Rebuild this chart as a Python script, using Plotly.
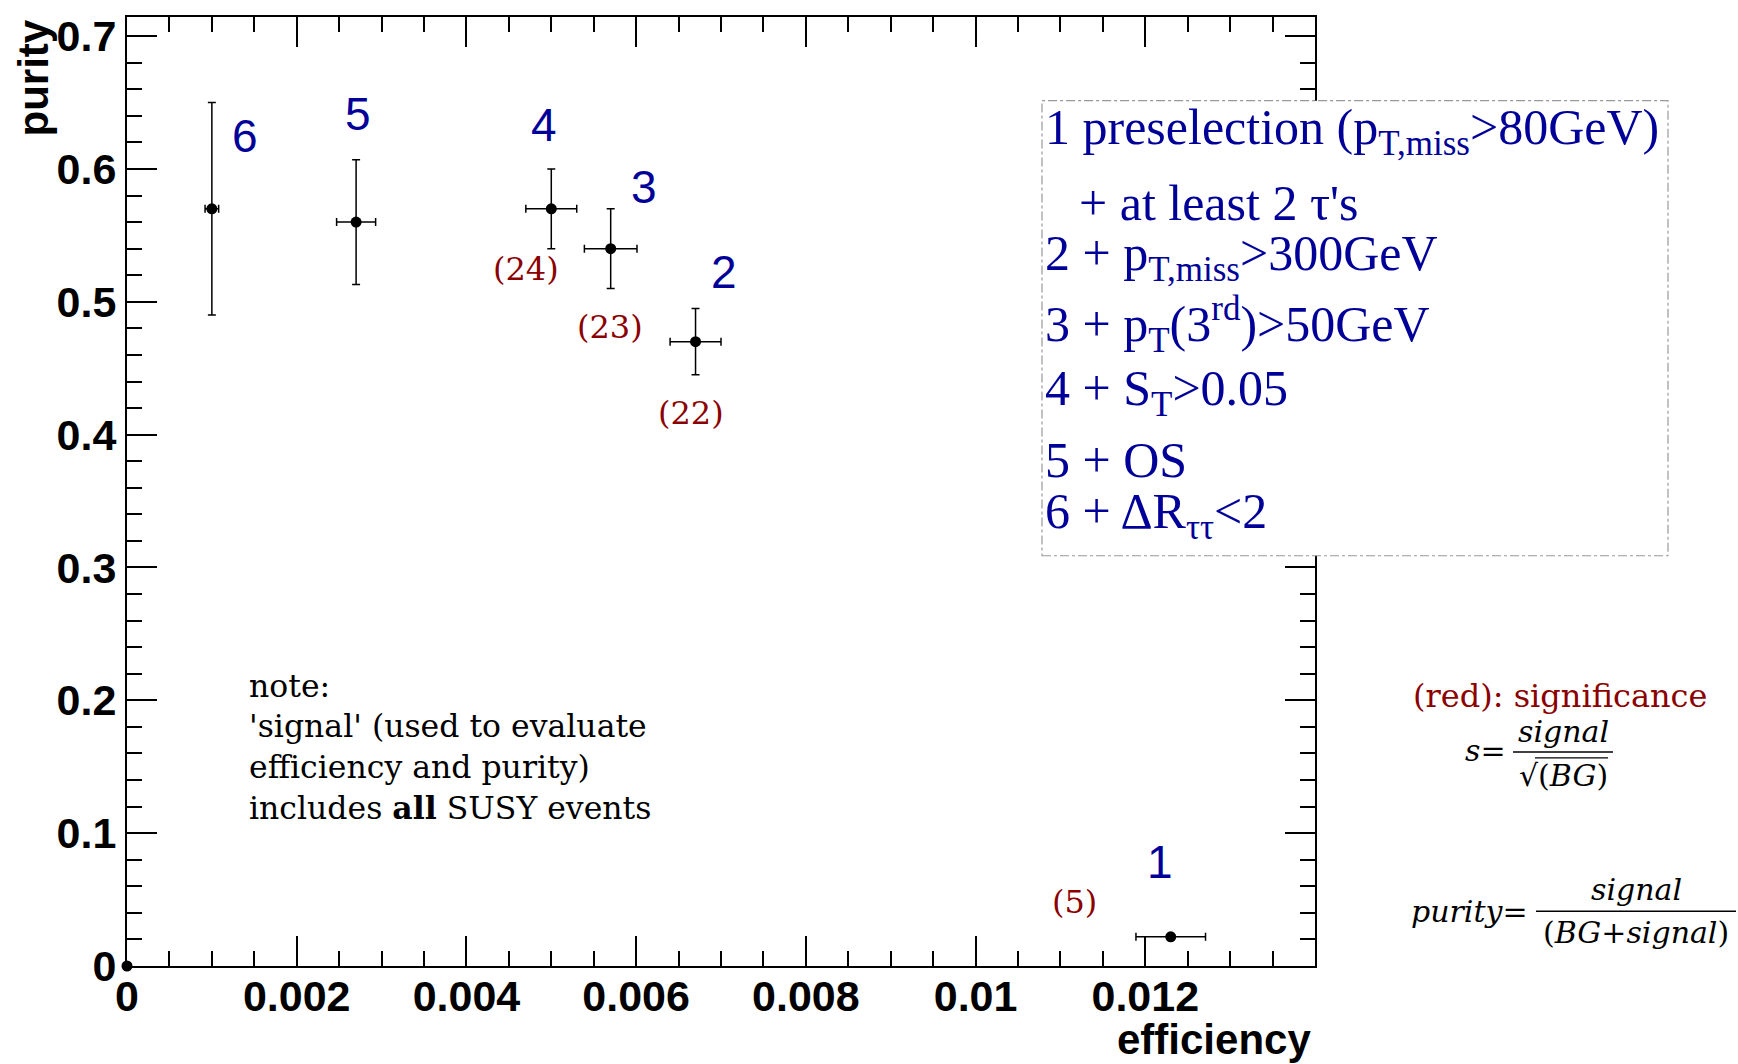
import plotly.graph_objects as go

# Cut-flow steps: signal efficiency vs purity, with uncertainties
step_labels = ["", "1", "2", "3", "4", "5", "6"]
efficiency = [0.0, 0.0123, 0.0067, 0.0057, 0.0050, 0.0027, 0.0010]
efficiency_err = [0.0, 0.00041, 0.00030, 0.00031, 0.00030, 0.00023, 0.00008]
purity = [0.0, 0.022, 0.47, 0.54, 0.57, 0.56, 0.57]
purity_err = [0.0, 0.001, 0.025, 0.030, 0.030, 0.047, 0.080]
significance_labels = ["", "(5)", "(22)", "(23)", "(24)", "", ""]

x_ticks = [0, 0.002, 0.004, 0.006, 0.008, 0.01, 0.012]
x_tick_text = ["0", "0.002", "0.004", "0.006", "0.008", "0.01", "0.012"]
y_ticks = [0, 0.1, 0.2, 0.3, 0.4, 0.5, 0.6, 0.7]
y_tick_text = ["0", "0.1", "0.2", "0.3", "0.4", "0.5", "0.6", "0.7"]

cut_descriptions = [
    "1 preselection (p<sub>T,miss</sub>&gt;80GeV)",
    "+ at least 2 \u03c4's",
    "2 + p<sub>T,miss</sub>&gt;300GeV",
    "3 + p<sub>T</sub>(3<sup>rd</sup>)&gt;50GeV",
    "4 + S<sub>T</sub>&gt;0.05",
    "5 + OS",
    "6 + \u0394R<sub>\u03c4\u03c4</sub>&lt;2",
]
note_lines = [
    "note:",
    "'signal' (used to evaluate",
    "efficiency and purity)",
    "includes <b>all</b> SUSY events",
]

# ---- canvas geometry (pixels) ----
W, H = 1738, 1064
ML, MR, MT, MB = 127, 423, 13, 98
PW = W - ML - MR
PH = H - MT - MB


def px(x):
    return (x - ML) / PW


def py(y):
    return (H - MB - y) / PH


BLUE = "#000099"
RED = "#8b0000"
SANS = "Liberation Sans"
SERIF = "DejaVu Serif"

# label offsets in pixels relative to each point (cut number, significance)
step_shift = {"1": (-11, 75), "2": (28, 70), "3": (33, 62), "4": (-7, 84),
              "5": (2, 108), "6": (33, 73)}
sig_shift = {"(5)": (-96, 35), "(22)": (-5, -71), "(23)": (-1, -78),
             "(24)": (-25, -60)}

fig = go.Figure()
fig.add_trace(go.Scatter(
    x=efficiency, y=purity, mode="markers",
    marker=dict(color="black", size=11),
    error_x=dict(type="data", array=efficiency_err, color="black",
                 thickness=1.5, width=4),
    error_y=dict(type="data", array=purity_err, color="black",
                 thickness=1.5, width=4),
    cliponaxis=False, showlegend=False, hoverinfo="x+y",
))

annotations = []
for ex, pu, lab, sig in zip(efficiency, purity, step_labels, significance_labels):
    if lab:
        dx, dy = step_shift[lab]
        annotations.append(dict(
            x=ex, y=pu, xref="x", yref="y", text=lab, showarrow=False,
            xshift=dx, yshift=dy, xanchor="center", yanchor="middle",
            font=dict(family=SANS, size=46, color=BLUE)))
    if sig:
        dx, dy = sig_shift[sig]
        annotations.append(dict(
            x=ex, y=pu, xref="x", yref="y", text=sig, showarrow=False,
            xshift=dx, yshift=dy, xanchor="center", yanchor="middle",
            font=dict(family=SERIF, size=32, color=RED)))

# cut description box
box_rows_y = [127, 200, 254, 322, 390, 458, 513]
box_rows_x = [1043, 1077, 1043, 1043, 1043, 1043, 1043]
for txt, bx, by in zip(cut_descriptions, box_rows_x, box_rows_y):
    annotations.append(dict(
        x=px(bx), y=py(by), xref="paper", yref="paper", text=txt,
        showarrow=False, xanchor="left", yanchor="middle",
        font=dict(family="Liberation Serif", size=50, color=BLUE)))

# note inside the frame
for txt, ny in zip(note_lines, [685, 725, 766, 807]):
    annotations.append(dict(
        x=px(247), y=py(ny), xref="paper", yref="paper", text=txt,
        showarrow=False, xanchor="left", yanchor="middle",
        font=dict(family=SERIF, size=31.5, color="black")))

# significance / purity definitions
annotations.append(dict(
    x=px(1560), y=py(695), xref="paper", yref="paper",
    text="(red): significance", showarrow=False,
    xanchor="center", yanchor="middle",
    font=dict(family=SERIF, size=32, color=RED)))

formula_font = dict(family=SERIF, size=30, color="black")
formula_parts = [
    ("<i>s</i>=", 1508, 750, "right"),
    ("<i>signal</i>", 1563, 731, "center"),
    ("\u221a(<i>BG</i>)", 1563, 775, "center"),
    ("<i>purity</i>=", 1530, 911, "right"),
    ("<i>signal</i>", 1636, 889, "center"),
    ("(<i>BG</i>+<i>signal</i>)", 1636, 932, "center"),
]
for txt, fx, fy, anchor in formula_parts:
    annotations.append(dict(
        x=px(fx), y=py(fy), xref="paper", yref="paper", text=txt,
        showarrow=False, xanchor=anchor, yanchor="middle", font=formula_font))

# axis titles, ROOT style at the axis ends
annotations.append(dict(
    x=px(33), y=py(14), xref="paper", yref="paper", text="<b>purity</b>",
    showarrow=False, textangle=-90, xanchor="center", yanchor="top",
    font=dict(family=SANS, size=42, color="black")))
annotations.append(dict(
    x=px(1313), y=py(1040), xref="paper", yref="paper", text="<b>efficiency</b>",
    showarrow=False, xanchor="right", yanchor="middle",
    font=dict(family=SANS, size=42, color="black")))

shapes = [
    dict(type="rect", xref="paper", yref="paper",
         x0=px(1042), x1=px(1668), y0=py(554), y1=py(97),
         line=dict(color="#999999", width=1.2, dash="dashdot"),
         fillcolor="white", layer="above"),
    # fraction bars and the root overline
    dict(type="line", xref="paper", yref="paper", x0=px(1513), x1=px(1613),
         y0=py(751), y1=py(751), line=dict(color="black", width=1.5)),
    dict(type="line", xref="paper", yref="paper", x0=px(1535), x1=px(1608),
         y0=py(757), y1=py(757), line=dict(color="black", width=1.2)),
    dict(type="line", xref="paper", yref="paper", x0=px(1536), x1=px(1736),
         y0=py(911), y1=py(911), line=dict(color="black", width=1.5)),
]

axis_common = dict(
    showline=True, linecolor="black", linewidth=2, mirror="allticks",
    ticks="inside", ticklen=30, tickwidth=1.5, tickcolor="black",
    showgrid=False, zeroline=False,
    tickfont=dict(family=SANS, size=43, color="black", weight="bold"),
)

fig.update_xaxes(
    range=[0, 0.014], tickvals=x_ticks, ticktext=x_tick_text,
    ticklabelstandoff=-9,
    minor=dict(dtick=0.0005, ticks="inside", ticklen=15, tickwidth=1.5,
               tickcolor="black"),
    **axis_common)
fig.update_yaxes(
    range=[0, 0.7144], tickvals=y_ticks, ticktext=y_tick_text,
    minor=dict(dtick=0.02, ticks="inside", ticklen=15, tickwidth=1.5,
               tickcolor="black"),
    **axis_common)

fig.update_layout(
    width=W, height=H,
    margin=dict(l=ML, r=MR, t=MT, b=MB),
    paper_bgcolor="white", plot_bgcolor="white",
    annotations=annotations, shapes=shapes,
)

fig.write_html("out.html")
